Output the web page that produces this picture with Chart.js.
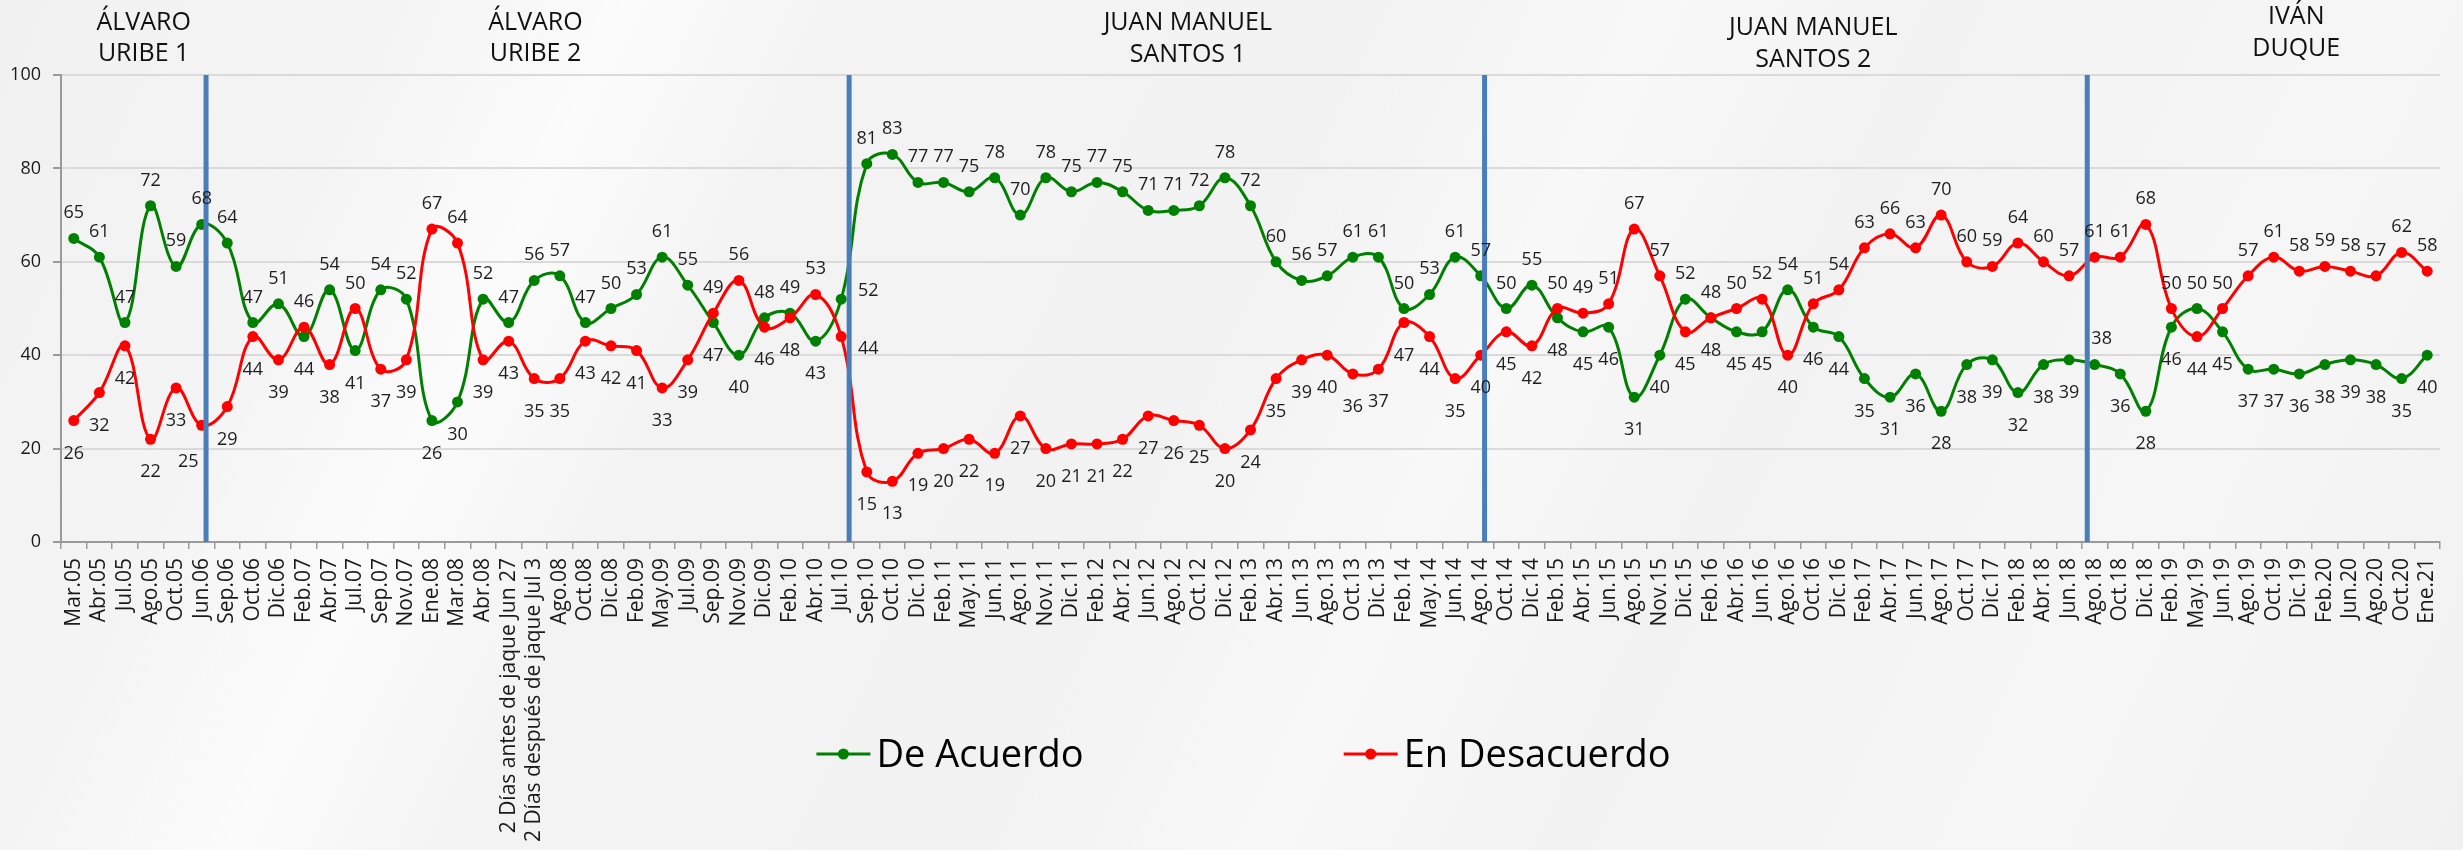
<!DOCTYPE html>
<html lang="es">
<head>
<meta charset="utf-8">
<title>De Acuerdo / En Desacuerdo</title>
<script src="https://cdn.jsdelivr.net/npm/chart.js@4.4.1/dist/chart.umd.min.js"></script>
<style>
  html, body { margin: 0; padding: 0; }
  body {
    width: 2463px; height: 850px; overflow: hidden;
    background: linear-gradient(115deg, #f1f1f1 0%, #f4f4f4 14%, #fbfbfb 22%, #f3f3f3 30%, #f2f2f2 48%, #f8f8f8 58%, #f2f2f2 68%, #f6f6f6 84%, #f1f1f1 100%);
  }
  #wrap { position: relative; width: 2463px; height: 850px; }
</style>
</head>
<body>
<div id="wrap"><canvas id="chart"></canvas></div>
<script>
// Survey waves (x axis)
const categories = [
  'Mar.05','Abr.05','Jul.05','Ago.05','Oct.05','Jun.06','Sep.06','Oct.06','Dic.06','Feb.07',
  'Abr.07','Jul.07','Sep.07','Nov.07','Ene.08','Mar.08','Abr.08',
  '2 Días antes de jaque Jun 27','2 Días después de jaque Jul 3',
  'Ago.08','Oct.08','Dic.08','Feb.09','May.09','Jul.09','Sep.09','Nov.09','Dic.09','Feb.10',
  'Abr.10','Jul.10','Sep.10','Oct.10','Dic.10','Feb.11','May.11','Jun.11','Ago.11','Nov.11',
  'Dic.11','Feb.12','Abr.12','Jun.12','Ago.12','Oct.12','Dic.12','Feb.13','Abr.13','Jun.13',
  'Ago.13','Oct.13','Dic.13','Feb.14','May.14','Jun.14','Ago.14','Oct.14','Dic.14','Feb.15',
  'Abr.15','Jun.15','Ago.15','Nov.15','Dic.15','Feb.16','Abr.16','Jun.16','Ago.16','Oct.16',
  'Dic.16','Feb.17','Abr.17','Jun.17','Ago.17','Oct.17','Dic.17','Feb.18','Abr.18','Jun.18',
  'Ago.18','Oct.18','Dic.18','Feb.19','May.19','Jun.19','Ago.19','Oct.19','Dic.19','Feb.20',
  'Jun.20','Ago.20','Oct.20','Ene.21'
];

// Percent "De Acuerdo"
const deAcuerdo = [
  65,61,47,72,59,68,64,47,51,44,
  54,41,54,52,26,30,52,47,56,57,
  47,50,53,61,55,47,40,48,49,43,
  52,81,83,77,77,75,78,70,78,75,
  77,75,71,71,72,78,72,60,56,57,
  61,61,50,53,61,57,50,55,48,45,
  46,31,40,52,48,45,45,54,46,44,
  35,31,36,28,38,39,32,38,39,38,
  36,28,46,50,45,37,37,36,38,39,
  38,35,40
];

// Percent "En Desacuerdo"
const enDesacuerdo = [
  26,32,42,22,33,25,29,44,39,46,
  38,50,37,39,67,64,39,43,35,35,
  43,42,41,33,39,49,56,46,48,53,
  44,15,13,19,20,22,19,27,20,21,
  21,22,27,26,25,20,24,35,39,40,
  36,37,47,44,35,40,45,42,50,49,
  51,67,57,45,48,50,52,40,51,54,
  63,66,63,70,60,59,64,60,57,61,
  61,68,50,44,50,57,61,58,59,58,
  57,62,58
];

const seriesNames = ['De Acuerdo', 'En Desacuerdo'];
const yTickValues = [0, 20, 40, 60, 80, 100];

// Presidential terms shown above the plot
const periodNames = [
  ['ÁLVARO', 'URIBE 1'],
  ['ÁLVARO', 'URIBE 2'],
  ['JUAN MANUEL', 'SANTOS 1'],
  ['JUAN MANUEL', 'SANTOS 2'],
  ['IVÁN', 'DUQUE']
];

// ---- layout (category-index units and pixels) ----
const periodNameAt = [2.73, 18.05, 43.55, 68.0, 86.88];
const periodNameBaselines = [[30, 61], [30, 61], [30, 62], [35, 67], [24, 56]];
const periodBreakAt = [5.17, 30.31, 55.15, 78.71];

// Value label placement: default above (higher series) / below (lower series);
// a few labels sit beside their point instead: "series:index" -> centre offset [dx, dy]
const LABEL_ABOVE = -26.5, LABEL_BELOW = 31.5;
const labelOffsets = {
  '1:5': [-13.5, 35.5],
  '0:30': [27, -10],
  '1:30': [27, 10.5],
  '0:79': [7, -27.5]
};

const FONT = '"Open Sans", "DejaVu Sans", sans-serif';
const GREEN = '#008000';
const RED = '#ff0000';
const BLUE = '#4a7ebb';

Chart.defaults.font.family = FONT;

function xAt(chart, f) {
  const xs = chart.scales.x;
  const step = (xs.right - xs.left) / categories.length;
  return xs.left + (f + 0.5) * step;
}

// Blue vertical separators between presidential terms
const termDividers = {
  id: 'termDividers',
  afterDatasetsDraw(chart) {
    const { ctx } = chart;
    const ys = chart.scales.y;
    ctx.save();
    ctx.strokeStyle = BLUE;
    ctx.lineWidth = 5;
    periodBreakAt.forEach(f => {
      const x = xAt(chart, f);
      ctx.beginPath();
      ctx.moveTo(x, ys.getPixelForValue(100));
      ctx.lineTo(x, ys.getPixelForValue(0));
      ctx.stroke();
    });
    ctx.restore();
  }
};

// Value labels drawn next to each point
const valueLabels = {
  id: 'valueLabels',
  afterDatasetsDraw(chart) {
    const { ctx } = chart;
    const sets = chart.data.datasets;
    ctx.save();
    ctx.font = '18px ' + FONT;
    ctx.fillStyle = '#1e1e1e';
    ctx.textAlign = 'center';
    ctx.textBaseline = 'alphabetic';
    const half = 6.5; // half digit height, centre -> baseline
    sets.forEach((ds, i) => {
      const meta = chart.getDatasetMeta(i);
      const other = sets[1 - i].data;
      meta.data.forEach((pt, j) => {
        const v = ds.data[j], w = other[j];
        let dx = 0, dy;
        const off = labelOffsets[i + ':' + j];
        if (off) { dx = off[0]; dy = off[1]; }
        else dy = (v > w || (v === w && i === 0)) ? LABEL_ABOVE : LABEL_BELOW;
        ctx.fillText(String(v), pt.x + dx, pt.y + dy + half);
      });
    });
    ctx.restore();
  }
};

// Term names over the plot
const termNames = {
  id: 'termNames',
  afterDraw(chart) {
    const { ctx } = chart;
    ctx.save();
    ctx.font = '25px ' + FONT;
    ctx.fillStyle = '#111111';
    ctx.textAlign = 'center';
    ctx.textBaseline = 'alphabetic';
    periodNames.forEach((lines, k) => {
      const cx = xAt(chart, periodNameAt[k]);
      lines.forEach((t, li) => ctx.fillText(t, cx, periodNameBaselines[k][li]));
    });
    ctx.restore();
  }
};

// Legend: line with marker, then the series name
const lineLegend = {
  id: 'lineLegend',
  afterDraw(chart) {
    const { ctx } = chart;
    const y = 754;
    const lineLen = 54, gap = 6, between = 260;
    ctx.save();
    ctx.font = '38px ' + FONT;
    ctx.textBaseline = 'middle';
    const items = chart.data.datasets.map(d => ({
      label: d.label, color: d.borderColor, w: ctx.measureText(d.label).width
    }));
    const total = items.reduce((a, it) => a + lineLen + gap + it.w, 0) + between * (items.length - 1);
    const area = chart.chartArea;
    let x = (area.left + area.right) / 2 - 7 - total / 2;
    items.forEach(it => {
      ctx.strokeStyle = it.color;
      ctx.lineWidth = 3;
      ctx.beginPath();
      ctx.moveTo(x, y);
      ctx.lineTo(x + lineLen, y);
      ctx.stroke();
      ctx.fillStyle = it.color;
      ctx.beginPath();
      ctx.arc(x + lineLen / 2, y, 5.5, 0, Math.PI * 2);
      ctx.fill();
      ctx.fillStyle = '#000000';
      ctx.fillText(it.label, x + lineLen + gap, y + 2);
      x += lineLen + gap + it.w + between;
    });
    ctx.restore();
  }
};

new Chart(document.getElementById('chart'), {
  type: 'line',
  data: {
    labels: categories,
    datasets: [
      {
        label: seriesNames[0], data: deAcuerdo,
        borderColor: GREEN, backgroundColor: GREEN,
        pointBackgroundColor: GREEN, pointBorderColor: GREEN, order: 2
      },
      {
        label: seriesNames[1], data: enDesacuerdo,
        borderColor: RED, backgroundColor: RED,
        pointBackgroundColor: RED, pointBorderColor: RED, order: 1
      }
    ]
  },
  options: {
    responsive: true,
    maintainAspectRatio: false,
    animation: false,
    devicePixelRatio: 1,
    layout: { padding: { top: 75, right: 23, left: 0, bottom: 0 } },
    elements: {
      line: { tension: 0.4, borderWidth: 3, fill: false },
      point: { radius: 5.5, borderWidth: 0, hoverRadius: 5.5 }
    },
    plugins: {
      legend: { display: false },
      tooltip: { enabled: false }
    },
    scales: {
      x: {
        type: 'category',
        offset: true,
        grid: {
          display: true, drawOnChartArea: false, drawTicks: true,
          tickLength: 7, tickColor: '#9a9a9a', offset: true, lineWidth: 1.5
        },
        border: { display: true, color: '#9a9a9a', width: 2 },
        ticks: {
          autoSkip: false, minRotation: 90, maxRotation: 90, padding: 9,
          color: '#1a1a1a', font: { size: 21 }
        },
        afterFit(s) { s.height = 308; }
      },
      y: {
        min: 0, max: 100,
        afterBuildTicks(s) { s.ticks = yTickValues.map(v => ({ value: v })); },
        ticks: { padding: 12, color: '#1a1a1a', font: { size: 18 } },
        grid: { color: '#dadada', lineWidth: 2, tickLength: 8, tickColor: '#9a9a9a' },
        border: { display: true, color: '#9a9a9a', width: 2 },
        afterFit(s) { s.width = 61; }
      }
    }
  },
  plugins: [termDividers, valueLabels, termNames, lineLegend]
});
</script>
</body>
</html>
